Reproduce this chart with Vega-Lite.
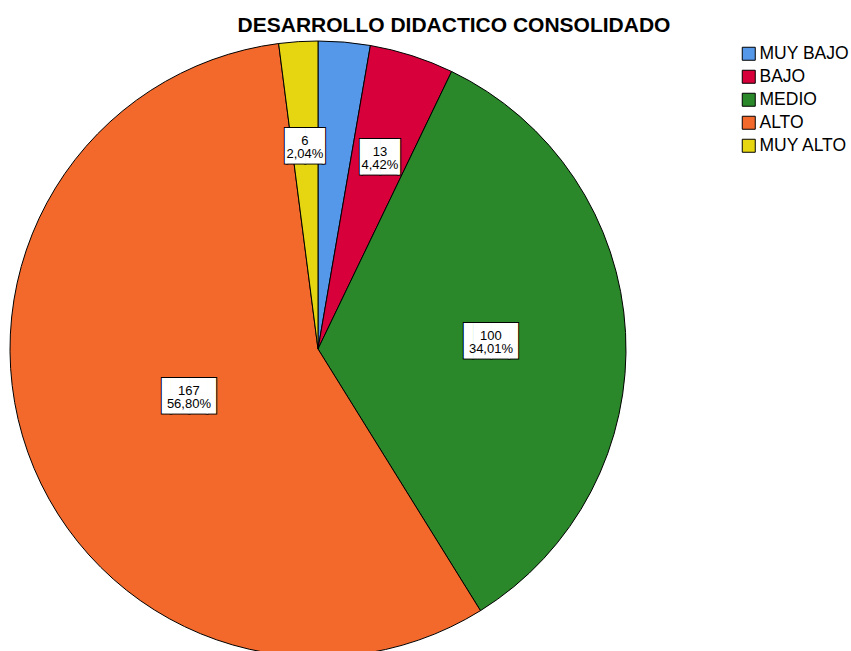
{
  "$schema": "https://vega.github.io/schema/vega-lite/v6.json",
  "width": 616,
  "height": 616,
  "autosize": {"type": "none"},
  "padding": {"left": 10, "top": 41, "right": 225, "bottom": 0},
  "background": "white",
  "title": {"text": "DESARROLLO DIDACTICO CONSOLIDADO", "font": "Liberation Sans", "fontSize": 21, "fontWeight": "bold", "color": "#000000", "anchor": "middle", "dx": 136, "offset": 3},
  "data": {"values": [
    {"categoria": "MUY BAJO", "orden": 1, "n": 8, "pct": "2,72%"},
    {"categoria": "BAJO", "orden": 2, "n": 13, "pct": "4,42%"},
    {"categoria": "MEDIO", "orden": 3, "n": 100, "pct": "34,01%"},
    {"categoria": "ALTO", "orden": 4, "n": 167, "pct": "56,80%"},
    {"categoria": "MUY ALTO", "orden": 5, "n": 6, "pct": "2,04%"}
  ]},
  "transform": [
    {"calculate": "datum.n + '\\n' + datum.pct", "as": "etiqueta"},
    {"calculate": "datum.n >= 100 ? '▐██▌' : '▕██▏'", "as": "caja"}
  ],
  "encoding": {
    "theta": {"field": "n", "type": "quantitative", "stack": true},
    "order": {"field": "orden", "type": "quantitative"}
  },
  "layer": [
    {
      "mark": {"type": "arc", "outerRadius": 308, "stroke": "#000000", "strokeWidth": 1},
      "encoding": {
        "color": {
          "field": "categoria", "type": "nominal",
          "scale": {"domain": ["MUY BAJO", "BAJO", "MEDIO", "ALTO", "MUY ALTO"], "range": ["#5597E8", "#D8003A", "#2A882A", "#F3692B", "#E6D612"]},
          "legend": {"orient": "none", "legendX": 730, "legendY": 4, "title": null, "symbolType": "square", "symbolSize": 169, "symbolStrokeColor": "#000000", "symbolStrokeWidth": 1, "symbolOpacity": 1, "labelFont": "Liberation Sans", "labelFontSize": 17.5, "labelColor": "#000000", "rowPadding": 4, "labelOffset": 2}
        }
      }
    },
    {
      "mark": {"type": "text", "font": "DejaVu Sans Mono", "fontSize": 30, "fill": "#000000", "stroke": "#000000", "strokeWidth": 2, "align": "center", "baseline": "middle", "dy": 2},
      "encoding": {
        "text": {"field": "caja"},
        "radius": {"field": "n", "type": "quantitative", "scale": {"type": "pow", "exponent": 1.5, "domain": [6, 167], "range": [204, 137], "zero": false}},
        "opacity": {"condition": {"test": "datum.categoria === 'MUY BAJO'", "value": 0}, "value": 1}
      }
    },
    {
      "mark": {"type": "text", "font": "DejaVu Sans Mono", "fontSize": 30, "fill": "#FFFFFF", "align": "center", "baseline": "middle", "dy": 2},
      "encoding": {
        "text": {"field": "caja"},
        "radius": {"field": "n", "type": "quantitative", "scale": {"type": "pow", "exponent": 1.5, "domain": [6, 167], "range": [204, 137], "zero": false}},
        "opacity": {"condition": {"test": "datum.categoria === 'MUY BAJO'", "value": 0}, "value": 1}
      }
    },
    {
      "mark": {"type": "text", "font": "Liberation Sans", "fontSize": 13, "lineHeight": 13, "lineBreak": "\n", "fill": "#000000", "align": "center", "baseline": "middle", "dy": -4},
      "encoding": {
        "text": {"field": "etiqueta"},
        "radius": {"field": "n", "type": "quantitative", "scale": {"type": "pow", "exponent": 1.5, "domain": [6, 167], "range": [204, 137], "zero": false}},
        "opacity": {"condition": {"test": "datum.categoria === 'MUY BAJO'", "value": 0}, "value": 1}
      }
    }
  ]
}
